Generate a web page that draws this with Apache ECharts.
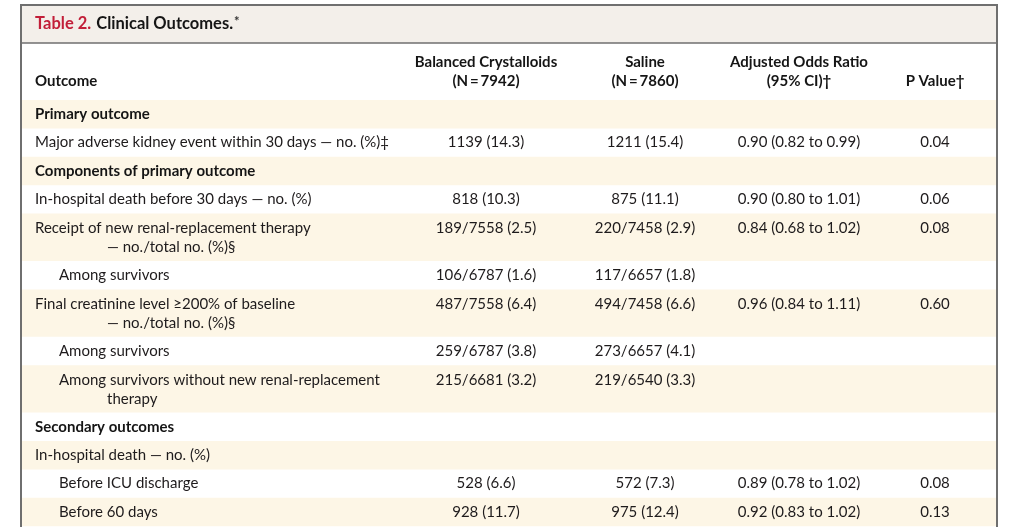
<!DOCTYPE html>
<html><head><meta charset="utf-8">
<script src="https://cdn.jsdelivr.net/npm/echarts@6/dist/echarts.min.js"></script>
<style>html,body{margin:0;padding:0;background:#fff}#c{width:1024px;height:527px}</style>
</head><body><div id="c"></div>
<script>
// ---------- data ----------
const tableLabel = 'Table 2.';
const tableTitle = 'Clinical Outcomes.';
const tableTitleMark = '*';
const columnHeaders = [
  'Outcome',
  'Balanced Crystalloids\n(N\u2009=\u20097942)',
  'Saline\n(N\u2009=\u20097860)',
  'Adjusted Odds Ratio\n(95% CI)\u2020',
  'P Value\u2020'
];
const outcomes = [
  'Primary outcome',
  'Major adverse kidney event within 30 days \u2014 no. (%)\u2021',
  'Components of primary outcome',
  'In-hospital death before 30 days \u2014 no. (%)',
  'Receipt of new renal-replacement therapy\n\u2014 no./total no. (%)\u00a7',
  'Among survivors',
  'Final creatinine level \u2265200% of baseline\n\u2014 no./total no. (%)\u00a7',
  'Among survivors',
  'Among survivors without new renal-replacement\ntherapy',
  'Secondary outcomes',
  'In-hospital death \u2014 no. (%)',
  'Before ICU discharge',
  'Before 60 days'
];
const rowKinds = ['section','item','section','item','item','sub','item','sub','sub','section','item','sub','sub'];
const balanced = ['', '1139 (14.3)', '', '818 (10.3)', '189/7558 (2.5)', '106/6787 (1.6)', '487/7558 (6.4)', '259/6787 (3.8)', '215/6681 (3.2)', '', '', '528 (6.6)', '928 (11.7)'];
const saline = ['', '1211 (15.4)', '', '875 (11.1)', '220/7458 (2.9)', '117/6657 (1.8)', '494/7458 (6.6)', '273/6657 (4.1)', '219/6540 (3.3)', '', '', '572 (7.3)', '975 (12.4)'];
const oddsRatios = ['', '0.90 (0.82 to 0.99)', '', '0.90 (0.80 to 1.01)', '0.84 (0.68 to 1.02)', '', '0.96 (0.84 to 1.11)', '', '', '', '', '0.89 (0.78 to 1.02)', '0.92 (0.83 to 1.02)'];
const pValues = ['', '0.04', '', '0.06', '0.08', '', '0.60', '', '', '', '', '0.08', '0.13'];

// ---------- layout ----------
const W = 1024, H = 527;
const FONT = 'Lato, "Open Sans", sans-serif';
const SIZE = 15;
const FRAME = {l: 21, r: 997, t: 5, titleB: 43};
const HEADER_LINE1 = 62, HEADER_LINE2 = 81;
const BODY_TOP = 100, ROW_H = 28.4, LINE_H = 19, FIRST_LINE = 14.2;
const TEXT_X = {item: 35, section: 35, sub: 59, cont: 107};
const COL_X = [35, 486, 645, 799, 935];
const CREAM = '#fdf6e6', TITLE_BG = '#f3efea', FRAME_C = '#6f6f6f';
const TXT = '#1e1b1c';

// row geometry computed from line counts
const rows = [];
let yCursor = BODY_TOP;
outcomes.forEach((t, i) => {
  const lines = t.split('\n').length;
  const h = ROW_H + (lines - 1) * LINE_H;
  rows.push({y0: yCursor, y1: yCursor + h, firstLine: yCursor + FIRST_LINE + (lines > 1 ? 0.8 : 0)});
  yCursor += h;
});

const chart = echarts.init(document.getElementById('c'), null, {renderer: 'canvas'});

function txt(x, y, text, opts) {
  return {
    type: 'text',
    style: Object.assign({
      x: x, y: y, text: text,
      font: (opts && opts.bold ? 'bold ' : '') + SIZE + 'px ' + FONT,
      fill: TXT,
      align: (opts && opts.align) || 'left',
      verticalAlign: 'middle',
      textAlign: (opts && opts.align) || 'left',
      textVerticalAlign: 'middle'
    }, (opts && opts.style) || {})
  };
}

const bandSeries = {
  type: 'custom', coordinateSystem: 'cartesian2d', z: 1, silent: true,
  data: rows.map((r, i) => [i]),
  renderItem: function (params, api) {
    const i = api.value(0);
    if (i % 2 !== 0) return {type: 'group', children: []};
    const r = rows[i];
    const p0 = api.coord([FRAME.l, r.y0]);
    const p1 = api.coord([FRAME.r, r.y1]);
    return {type: 'rect', shape: {x: p0[0], y: p0[1], width: p1[0] - p0[0], height: p1[1] - p0[1]}, style: {fill: CREAM}};
  }
};

const outcomeSeries = {
  type: 'custom', coordinateSystem: 'cartesian2d', z: 3, silent: true,
  data: outcomes.map((t, i) => [i]),
  renderItem: function (params, api) {
    const i = api.value(0);
    const kind = rowKinds[i];
    const lines = outcomes[i].split('\n');
    const children = lines.map((ln, k) => {
      const x = k === 0 ? TEXT_X[kind] : TEXT_X.cont;
      const p = api.coord([x, rows[i].firstLine + k * LINE_H]);
      return txt(p[0], p[1], ln, {bold: kind === 'section', style: kind === 'section' ? {fill: '#151515'} : {}});
    });
    return {type: 'group', children: children};
  }
};

function valueSeries(values, col) {
  return {
    type: 'custom', coordinateSystem: 'cartesian2d', z: 3, silent: true,
    data: values.map((v, i) => [i]),
    renderItem: function (params, api) {
      const i = api.value(0);
      const p = api.coord([COL_X[col], rows[i].firstLine]);
      return txt(p[0], p[1], values[i], {align: 'center'});
    }
  };
}

const headerSeries = {
  type: 'custom', coordinateSystem: 'cartesian2d', z: 3, silent: true,
  data: columnHeaders.map((h, i) => [i]),
  renderItem: function (params, api) {
    const c = api.value(0);
    const lines = columnHeaders[c].split('\n');
    const start = lines.length > 1 ? HEADER_LINE1 : HEADER_LINE2;
    const children = lines.map((ln, k) => {
      const p = api.coord([COL_X[c], start + k * LINE_H]);
      return txt(p[0], p[1], ln, {bold: true, align: c === 0 ? 'left' : 'center', style: {fill: '#151515'}});
    });
    return {type: 'group', children: children};
  }
};

chart.setOption({
  animation: false,
  grid: {left: 0, right: 0, top: 0, bottom: 0},
  xAxis: {type: 'value', min: 0, max: W, show: false},
  yAxis: {type: 'value', min: 0, max: H, inverse: true, show: false},
  title: {
    left: 35, top: 15, padding: 0,
    text: '{r|' + tableLabel + '} {b|' + tableTitle + '}{s|' + tableTitleMark + '}',
    textStyle: {
      rich: {
        r: {fontFamily: FONT, fontSize: 16.5, fontWeight: 'bold', color: '#c21f39'},
        b: {fontFamily: FONT, fontSize: 16.5, fontWeight: 'bold', color: '#151515'},
        s: {fontFamily: FONT, fontSize: 13, color: '#333', verticalAlign: 'top', padding: [0, 0, 4, 1]}
      }
    }
  },
  graphic: [
    {type: 'rect', z: 0, shape: {x: FRAME.l, y: FRAME.t, width: FRAME.r - FRAME.l, height: FRAME.titleB - FRAME.t}, style: {fill: TITLE_BG}},
    {type: 'line', z: 10, shape: {x1: FRAME.l, y1: FRAME.titleB, x2: FRAME.r, y2: FRAME.titleB}, style: {stroke: FRAME_C, lineWidth: 1.5}},
    {type: 'polyline', z: 10, shape: {points: [[FRAME.l, H + 5], [FRAME.l, FRAME.t], [FRAME.r, FRAME.t], [FRAME.r, H + 5]]}, style: {stroke: FRAME_C, lineWidth: 2, fill: null}}
  ],
  series: [
    bandSeries,
    headerSeries,
    outcomeSeries,
    valueSeries(balanced, 1),
    valueSeries(saline, 2),
    valueSeries(oddsRatios, 3),
    valueSeries(pValues, 4)
  ]
});
</script>
</body></html>
